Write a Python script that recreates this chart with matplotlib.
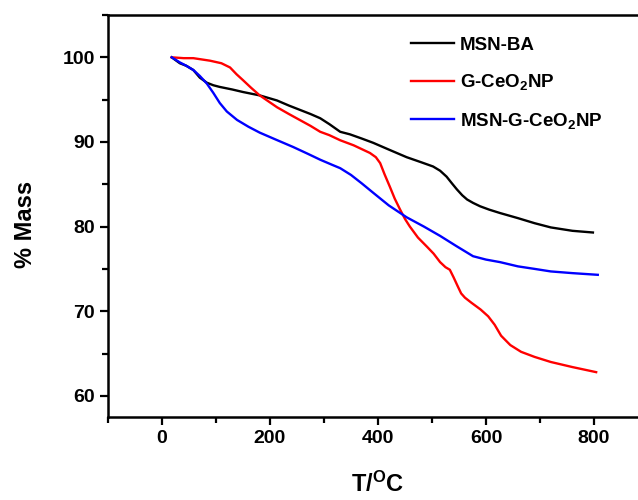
import matplotlib
matplotlib.use("Agg")
import matplotlib.pyplot as plt

plt.rcParams['font.family'] = 'Liberation Sans'
plt.rcParams['font.weight'] = 'bold'
plt.rcParams['mathtext.fontset'] = 'custom'
plt.rcParams['mathtext.rm'] = 'Liberation Sans:bold'
plt.rcParams['mathtext.bf'] = 'Liberation Sans:bold'
plt.rcParams['mathtext.default'] = 'bf'

# TGA curves (T in degC, % mass)
t_ba = [18, 33, 45, 58, 70, 83, 95, 107, 130, 150, 181, 213, 235, 255, 275, 293, 310, 330,
        348, 370, 391, 420, 453, 480, 502, 515, 527, 537, 546, 556, 565, 576, 589, 606,
        626, 659, 690, 720, 760, 798]
m_ba = [100, 99.3, 99.0, 98.5, 97.6, 97.0, 96.7, 96.5, 96.2, 95.9, 95.5, 94.9, 94.3, 93.8,
        93.3, 92.8, 92.1, 91.2, 90.9, 90.4, 89.9, 89.1, 88.2, 87.6, 87.1, 86.6, 85.9, 85.1,
        84.4, 83.7, 83.2, 82.8, 82.4, 82.0, 81.6, 81.0, 80.4, 79.9, 79.5, 79.3]

t_ce = [18, 40, 58, 89, 110, 126, 138, 150, 165, 181, 197, 213, 235, 255, 275, 293, 310,
        330, 355, 385, 396, 404, 412, 422, 431, 441, 450, 459, 474, 491, 503, 515, 525,
        533, 540, 548, 554, 561, 573, 590, 604, 616, 628, 645, 665, 690, 720, 760, 804]
m_ce = [100, 99.9, 99.9, 99.6, 99.3, 98.8, 98.0, 97.3, 96.4, 95.5, 94.8, 94.1, 93.3, 92.6,
        91.9, 91.2, 90.8, 90.2, 89.6, 88.7, 88.2, 87.5, 86.2, 84.7, 83.3, 82.0, 80.9, 80.0,
        78.7, 77.6, 76.8, 75.8, 75.2, 74.9, 74.0, 72.9, 72.1, 71.6, 71.0, 70.2, 69.4, 68.4,
        67.1, 66.0, 65.2, 64.6, 64.0, 63.4, 62.8]

t_mix = [18, 33, 45, 58, 70, 83, 95, 107, 120, 139, 160, 181, 210, 243, 270, 293, 315,
         330, 350, 370, 391, 420, 453, 485, 515, 545, 576, 600, 626, 659, 690, 720, 760, 807]
m_mix = [100, 99.4, 99.0, 98.5, 97.8, 96.9, 95.8, 94.6, 93.6, 92.6, 91.8, 91.1, 90.3, 89.4,
         88.6, 87.9, 87.3, 86.9, 86.1, 85.1, 84.0, 82.5, 81.1, 80.0, 78.9, 77.7, 76.5, 76.1,
         75.8, 75.3, 75.0, 74.7, 74.5, 74.3]

labels = ['MSN-BA', 'G-CeO$_2$NP', 'MSN-G-CeO$_2$NP']
colors = ['black', 'red', 'blue']

fig = plt.figure(figsize=(6.38, 5.0), dpi=100)
ax = fig.add_axes([108 / 638, 83 / 500, 540 / 638, 402 / 500])

for t, m, lab, c in zip([t_ba, t_ce, t_mix], [m_ba, m_ce, m_mix], labels, colors):
    ax.plot(t, m, color=c, lw=1.7, label=lab)

ax.set_xlim(-100, 900)
ax.set_ylim(57.5, 105)
ax.set_xticks([0, 200, 400, 600, 800])
ax.set_xticks(range(-100, 901, 100), minor=True)
ax.set_yticks([60, 70, 80, 90, 100])
ax.set_yticks(range(60, 106, 5), minor=True)
ax.tick_params(which='both', direction='out', width=1.6, labelsize=14)
ax.tick_params(which='major', length=6)
ax.tick_params(which='minor', length=4)
for lbl in ax.get_xticklabels() + ax.get_yticklabels():
    lbl.set_fontweight('bold')
for s in ax.spines.values():
    s.set_linewidth(1.8)
ax.spines['right'].set_visible(False)

ax.set_xlabel('T/$^{O}$C', fontsize=17, fontweight='bold', labelpad=18)
ax.set_ylabel('% Mass', fontsize=17, fontweight='bold')
ax.yaxis.set_label_coords(-0.132, 0.48)

leg = ax.legend(loc='upper left', bbox_to_anchor=(394 / 638, 1 - 20 / 500),
                bbox_transform=fig.transFigure, frameon=False, fontsize=13.5,
                handlelength=2.3, handletextpad=0.3, labelspacing=0.98)

fig.savefig('out.png', dpi=100)
